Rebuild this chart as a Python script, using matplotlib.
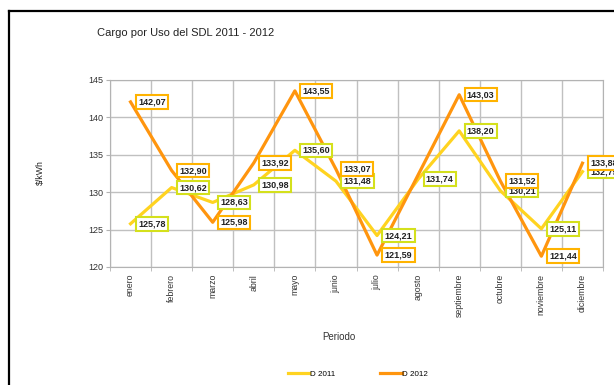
import matplotlib.pyplot as plt
from matplotlib.lines import Line2D

plt.rcParams['font.family'] = ['Liberation Sans', 'DejaVu Sans']

meses = ['enero', 'febrero', 'marzo', 'abril', 'mayo', 'junio', 'julio',
         'agosto', 'septiembre', 'octubre', 'noviembre', 'diciembre']
d2011 = [125.78, 130.62, 128.63, 130.98, 135.60, 131.48, 124.21,
         131.74, 138.20, 130.21, 125.11, 132.75]
d2012 = [142.07, 132.90, 125.98, 133.92, 143.55, 133.07, 121.59,
         132.31, 143.03, 131.52, 121.44, 133.88]
# agosto 2012 sin rotulo en la grafica
etiqueta_2012 = [True] * 12
etiqueta_2012[7] = False

c2011 = '#ffd320'
c2012 = '#ff950e'

fig = plt.figure(figsize=(6.14, 3.85), dpi=100)
ax = fig.add_axes([110 / 614, 118 / 385, 493 / 614, 187 / 385])

x = list(range(len(meses)))
ax.plot(x, d2011, color=c2011, lw=2.3, label='D 2011', zorder=3)
ax.plot(x, d2012, color=c2012, lw=2.3, label='D 2012', zorder=3)

# rotulos de valores con coma decimal
def rotular(vals, borde, mostrar=None):
    for i, v in enumerate(vals):
        if mostrar is not None and not mostrar[i]:
            continue
        ax.annotate(f'{v:.2f}'.replace('.', ','), (i, v), xytext=(5.5, 0),
                    textcoords='offset points', ha='left', va='center',
                    fontsize=6.5, fontweight='bold', color='#222222',
                    annotation_clip=False, zorder=5,
                    bbox=dict(boxstyle='square,pad=0.25', fc='white',
                              ec=borde, lw=1.5))

rotular(d2011, '#d4e01c')
rotular(d2012, '#ffb300', etiqueta_2012)

ax.set_xlim(-0.5, len(meses) - 0.5)
ax.set_ylim(120, 145)
ax.set_yticks(range(120, 146, 5))
ax.set_xticks(x)
ax.set_xticklabels(meses, rotation=90, fontsize=6.3, color='#333333', va='top')
ax.set_xticks([i - 0.5 for i in range(len(meses) + 1)], minor=True)
ax.tick_params(axis='x', which='major', length=0, pad=5)
ax.tick_params(axis='x', which='minor', length=3, color='#b3b3b3')
ax.tick_params(axis='y', length=3, color='#b3b3b3', labelsize=6.5,
               labelcolor='#333333', pad=2)
ax.grid(True, which='minor', axis='x', color='#c0c0c0', lw=1)
ax.grid(True, which='major', axis='y', color='#c0c0c0', lw=1)
ax.set_axisbelow(True)
for s in ax.spines.values():
    s.set_color('#b3b3b3')

fig.text(97 / 614, 1 - 33 / 385, 'Cargo por Uso del SDL 2011 - 2012',
         fontsize=8, color='#222222', ha='left', va='center')
fig.text(40 / 614, 1 - 173 / 385, '$/kWh', rotation=90, fontsize=6.3,
         color='#222222', ha='center', va='center')
fig.text(339 / 614, 1 - 337 / 385, 'Periodo', fontsize=7,
         color='#333333', ha='center', va='center')

fig.legend(loc='center', bbox_to_anchor=(358 / 614, 1 - 374 / 385), ncol=2,
           frameon=False, fontsize=5.8, handlelength=2.7, handletextpad=0.1,
           columnspacing=5.5)

# marco exterior
fig.add_artist(Line2D([8.5 / 614, 1], [1 - 11 / 385] * 2, color='black',
                      lw=1.6, transform=fig.transFigure))
fig.add_artist(Line2D([8.5 / 614] * 2, [0, 1 - 11 / 385], color='black',
                      lw=1.6, transform=fig.transFigure))

fig.savefig('out.png', dpi=100)
